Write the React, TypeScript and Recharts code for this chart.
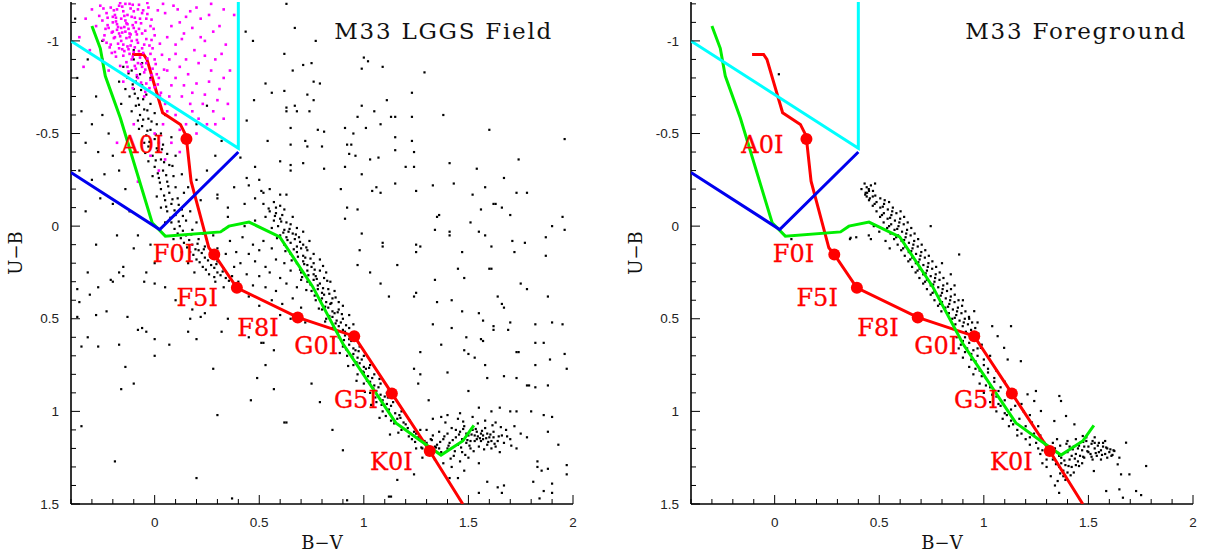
import React from 'react';
import { ComposedChart, Scatter, XAxis, YAxis } from 'recharts';

type Pt = [number, number];

// axes
const X_DOMAIN: [number, number] = [-0.4, 2];
const Y_DOMAIN: [number, number] = [-1.21, 1.5];
const X_TICKS = [-0.4, -0.3, -0.2, -0.1, 0, 0.1, 0.2, 0.3, 0.4, 0.5, 0.6, 0.7, 0.8, 0.9, 1, 1.1, 1.2, 1.3, 1.4, 1.5, 1.6, 1.7, 1.8, 1.9, 2];
const Y_TICKS = [-1.2, -1.1, -1, -0.9, -0.8, -0.7, -0.6, -0.5, -0.4, -0.3, -0.2, -0.1, 0, 0.1, 0.2, 0.3, 0.4, 0.5, 0.6, 0.7, 0.8, 0.9, 1, 1.1, 1.2, 1.3, 1.4, 1.5];

// supergiant sequence
const SEQ_NAMES = ['A0I', 'F0I', 'F5I', 'F8I', 'G0I', 'G5I', 'K0I'];
const SEQ_BV = [0.152, 0.285, 0.393, 0.684, 0.954, 1.134, 1.315];
const SEQ_UB = [-0.471, 0.153, 0.333, 0.493, 0.594, 0.903, 1.214];

const RED_LINE: Pt[] = [[-0.108, -0.927], [-0.053, -0.927], [-0.037, -0.9], [0.038, -0.612], [0.123, -0.549], [0.147, -0.495], [0.152, -0.471], [0.174, -0.243], [0.259, 0.117], [0.285, 0.153], [0.393, 0.333], [0.684, 0.493], [0.954, 0.594], [1.134, 0.903], [1.315, 1.214], [1.473, 1.5]];
const GREEN_LINE: Pt[] = [[-0.3, -1.08], [-0.26, -0.96], [-0.236, -0.81], [-0.164, -0.584], [-0.012, -0.018], [0.051, 0.054], [0.315, 0.031], [0.355, 0.0], [0.451, -0.022], [0.598, 0.058], [0.754, 0.324], [0.9, 0.635], [1.153, 1.062], [1.273, 1.16], [1.369, 1.236], [1.473, 1.16], [1.526, 1.076]];
const CYAN_LINE: Pt[] = [[-0.4, -1.0], [0.4, -0.42], [0.4, -1.21]];
const BLUE_LINE: Pt[] = [[-0.4, -0.29], [0.024, 0.018], [0.4, -0.4]];

// left panel: LGGS field stars
const MAGENTA_CORE: Pt[] = [[-0.21, -1.18], [-0.17, -1.19], [-0.12, -1.2], [-0.08, -1.17], [-0.23, -1.15], [-0.19, -1.14], [-0.15, -1.16], [-0.11, -1.13], [-0.06, -1.15], [-0.25, -1.11], [-0.2, -1.1], [-0.16, -1.12], [-0.13, -1.09], [-0.09, -1.1], [-0.04, -1.12], [-0.22, -1.07], [-0.18, -1.06], [-0.14, -1.05], [-0.1, -1.07], [-0.06, -1.04], [-0.02, -1.08], [-0.24, -1.03], [-0.19, -1.02], [-0.16, -1.0], [-0.12, -1.02], [-0.08, -0.99], [-0.04, -1.01], [0.0, -1.03], [-0.21, -0.98], [-0.17, -0.96], [-0.13, -0.97], [-0.1, -0.94], [-0.06, -0.96], [-0.02, -0.93], [-0.15, -0.92], [-0.11, -0.9], [-0.07, -0.91], [-0.04, -0.88], [0.0, -0.9], [-0.13, -0.86], [-0.09, -0.85], [-0.05, -0.83], [-0.01, -0.85], [0.02, -0.8], [-0.08, -0.8], [-0.04, -0.77], [0.0, -0.75], [0.03, -0.72], [-0.18, -1.09], [-0.14, -1.11], [-0.2, -1.13], [-0.17, -1.04], [-0.11, -1.0], [-0.15, -0.98], [-0.09, -1.05], [-0.13, -1.14], [-0.07, -1.12], [-0.19, -0.94], [-0.05, -0.98], [-0.01, -0.96], [-0.26, -1.19], [-0.28, -1.08], [-0.23, -0.99], [-0.12, -0.93], [-0.16, -1.07], [-0.1, -1.16], [-0.03, -1.18], [-0.14, -1.2], [-0.18, -1.17], [-0.08, -0.88], [0.01, -0.82], [-0.06, -0.86], [-0.02, -0.79], [-0.12, -1.04], [-0.2, -1.05]];
const MAGENTA_DENSE: Pt[] = [[-0.195, -1.165], [-0.155, -1.185], [-0.115, -1.175], [-0.075, -1.195], [-0.225, -1.125], [-0.185, -1.105], [-0.145, -1.135], [-0.105, -1.085], [-0.065, -1.095], [-0.035, -1.145], [-0.235, -1.065], [-0.205, -1.045], [-0.165, -1.025], [-0.125, -1.065], [-0.085, -1.035], [-0.045, -1.055], [-0.015, -1.005], [-0.215, -0.965], [-0.175, -0.985], [-0.135, -1.015], [-0.095, -0.965], [-0.055, -0.935], [-0.025, -0.975], [-0.185, -0.915], [-0.145, -0.945], [-0.105, -0.915], [-0.065, -0.875], [-0.035, -0.905], [0.005, -0.875], [-0.125, -0.835], [-0.085, -0.815], [-0.045, -0.845], [-0.015, -0.815], [-0.065, -0.775], [-0.025, -0.745], [0.015, -0.765], [-0.175, -1.075], [-0.135, -1.095], [-0.095, -1.125], [-0.055, -1.165], [-0.155, -1.045], [-0.115, -1.035], [-0.075, -1.065], [-0.195, -1.015], [-0.155, -0.955], [-0.115, -0.975], [-0.075, -0.945], [-0.135, -0.885], [-0.095, -0.865], [-0.245, -1.175], [-0.265, -1.135], [-0.225, -1.085], [-0.245, -1.005], [-0.205, -0.935], [-0.165, -0.865], [-0.015, -1.115], [0.015, -1.165], [-0.005, -1.065], [0.025, -0.985], [0.035, -0.925], [-0.105, -1.195], [-0.165, -1.205], [-0.035, -1.205], [0.045, -0.845], [0.025, -0.705], [-0.045, -0.725], [-0.105, -0.745], [-0.185, -1.125], [-0.145, -1.075], [-0.085, -1.005], [-0.125, -0.955]];
const MAGENTA_SPREAD: Pt[] = [[0.05, -1.15], [0.09, -1.19], [0.12, -1.1], [0.17, -1.16], [0.22, -1.12], [0.27, -1.2], [0.31, -1.08], [0.06, -1.02], [0.1, -0.98], [0.14, -1.04], [0.19, -0.95], [0.24, -1.0], [0.29, -0.9], [0.34, -0.98], [0.07, -0.9], [0.12, -0.86], [0.16, -0.82], [0.21, -0.88], [0.26, -0.78], [0.31, -0.74], [0.36, -0.84], [0.08, -0.76], [0.13, -0.7], [0.18, -0.72], [0.23, -0.66], [0.28, -0.62], [0.33, -0.58], [0.05, -0.66], [0.1, -0.6], [0.15, -0.55], [0.2, -0.5], [0.04, -0.55], [0.08, -0.45], [-0.02, -0.38], [0.02, -0.3], [0.05, -0.36], [-0.08, -0.24], [0.12, -0.4], [-0.33, -1.12], [-0.36, -1.02], [-0.31, -0.95], [-0.3, -1.17], [-0.34, -0.86], [-0.25, -0.9], [-0.22, -0.84], [0.38, -1.14], [0.35, -0.66], [0.25, -0.55], [0.18, -0.62], [-0.05, -0.7], [-0.15, -0.78], [-0.1, -0.55], [0.0, -0.5], [-0.18, -0.45], [0.04, -1.2], [0.11, -1.17], [0.15, -1.13], [0.2, -1.18], [0.26, -1.14], [0.33, -1.17], [0.08, -1.08], [0.13, -1.01], [0.18, -1.07], [0.22, -1.02], [0.28, -1.05], [0.32, -0.93], [0.1, -0.93], [0.15, -0.9], [0.24, -0.92], [0.27, -0.84], [0.33, -0.8], [0.06, -0.84], [0.1, -0.8], [0.2, -0.77], [0.14, -0.76], [0.24, -0.71], [0.3, -0.68], [0.07, -0.7], [0.17, -0.66], [0.21, -0.58], [0.12, -0.52], [0.29, -0.55], [0.06, -0.62], [0.02, -0.45]];

const L_PLUME: Pt[] = [[-0.15, -0.86], [-0.11, -0.84], [-0.13, -0.8], [-0.09, -0.78], [-0.07, -0.82], [-0.1, -0.74], [-0.06, -0.76], [-0.12, -0.7], [-0.08, -0.69], [-0.04, -0.71], [-0.09, -0.65], [-0.05, -0.63], [-0.02, -0.66], [-0.07, -0.6], [-0.03, -0.58], [0.0, -0.61], [-0.06, -0.54], [-0.02, -0.52], [0.01, -0.55], [-0.04, -0.49], [0.0, -0.47], [0.03, -0.5], [-0.03, -0.43], [0.01, -0.42], [0.04, -0.44], [-0.01, -0.38], [0.03, -0.36], [0.06, -0.39], [0.0, -0.32], [0.04, -0.3], [0.07, -0.33], [0.02, -0.26], [0.06, -0.24], [0.09, -0.27], [0.03, -0.2], [0.07, -0.18], [0.1, -0.21], [0.05, -0.14], [0.08, -0.12], [0.11, -0.15], [0.06, -0.08], [0.1, -0.06], [0.13, -0.09], [0.08, -0.02], [0.12, 0.0], [0.15, -0.03], [0.11, 0.04], [0.15, 0.05], [0.18, 0.02], [0.14, 0.09], [0.18, 0.1], [0.21, 0.07], [0.17, 0.14], [0.21, 0.13], [0.24, 0.11], [0.2, 0.18], [0.24, 0.17], [0.27, 0.15], [0.23, 0.22], [0.27, 0.21], [0.3, 0.19], [0.26, 0.26], [0.3, 0.25], [0.33, 0.23], [0.29, 0.3], [0.34, 0.28], [0.37, 0.27], [0.33, 0.33], [0.39, 0.31], [-0.14, -0.74], [-0.11, -0.62], [-0.08, -0.57], [-0.05, -0.45], [-0.03, -0.35], [-0.01, -0.27], [0.01, -0.16], [0.03, -0.1], [0.05, -0.02], [0.09, 0.07], [0.13, 0.14], [0.16, 0.2], [0.19, 0.25], [-0.02, -0.8], [0.01, -0.7], [0.05, -0.6], [0.08, -0.48], [0.1, -0.38], [0.13, -0.28], [0.14, -0.18], [0.17, -0.08], [0.2, -0.02], [0.23, 0.04], [-0.1, -0.9], [-0.06, -0.88], [-0.17, -0.78], [-0.16, -0.66]];
const L_PLUME_FILL: Pt[] = [[-0.125, -0.825], [-0.085, -0.805], [-0.105, -0.765], [-0.065, -0.735], [-0.095, -0.715], [-0.055, -0.685], [-0.075, -0.655], [-0.035, -0.625], [-0.055, -0.575], [-0.015, -0.565], [-0.035, -0.515], [0.005, -0.495], [-0.025, -0.455], [0.015, -0.405], [0.035, -0.415], [0.005, -0.355], [0.045, -0.345], [0.015, -0.285], [0.055, -0.275], [0.025, -0.235], [0.065, -0.215], [0.045, -0.165], [0.085, -0.145], [0.055, -0.105], [0.095, -0.085], [0.075, -0.045], [0.115, -0.025], [0.095, 0.015], [0.135, 0.025], [0.125, 0.065], [0.165, 0.075], [0.155, 0.115], [0.195, 0.125], [0.185, 0.155], [0.225, 0.145], [0.215, 0.195], [0.255, 0.185], [0.245, 0.235], [0.285, 0.225], [0.315, 0.265], [0.355, 0.295], [0.285, 0.275], [0.175, 0.045], [0.205, 0.095], [0.235, 0.125], [0.265, 0.165], [0.295, 0.205], [0.325, 0.245], [0.115, -0.115], [0.135, -0.055], [-0.045, -0.395], [-0.075, -0.525], [0.085, -0.325]];

const L_DWARF: Pt[] = [[0.52, -0.12], [0.57, -0.13], [0.6, -0.11], [0.55, -0.08], [0.58, -0.07], [0.62, -0.09], [0.53, -0.05], [0.57, -0.03], [0.6, -0.04], [0.63, -0.02], [0.66, -0.05], [0.56, 0.01], [0.59, 0.0], [0.62, 0.02], [0.65, -0.01], [0.68, 0.01], [0.6, 0.05], [0.63, 0.06], [0.66, 0.04], [0.69, 0.06], [0.71, 0.03], [0.62, 0.1], [0.65, 0.09], [0.68, 0.11], [0.71, 0.1], [0.74, 0.08], [0.65, 0.15], [0.68, 0.14], [0.71, 0.16], [0.73, 0.13], [0.76, 0.15], [0.68, 0.2], [0.71, 0.19], [0.73, 0.21], [0.76, 0.2], [0.79, 0.18], [0.7, 0.25], [0.73, 0.24], [0.76, 0.26], [0.79, 0.24], [0.82, 0.25], [0.73, 0.3], [0.76, 0.29], [0.79, 0.31], [0.81, 0.28], [0.84, 0.3], [0.75, 0.35], [0.78, 0.34], [0.8, 0.36], [0.83, 0.34], [0.86, 0.35], [0.77, 0.4], [0.8, 0.39], [0.82, 0.41], [0.85, 0.39], [0.88, 0.41], [0.8, 0.45], [0.83, 0.44], [0.85, 0.46], [0.88, 0.45], [0.9, 0.43], [0.82, 0.5], [0.85, 0.49], [0.87, 0.51], [0.9, 0.5], [0.93, 0.48], [0.85, 0.55], [0.88, 0.54], [0.9, 0.56], [0.93, 0.55], [0.95, 0.53], [0.88, 0.6], [0.91, 0.59], [0.93, 0.61], [0.96, 0.6], [0.9, 0.65], [0.93, 0.64], [0.95, 0.66], [0.98, 0.65], [0.92, 0.7], [0.95, 0.69], [0.97, 0.71], [1.0, 0.7], [0.95, 0.75], [0.98, 0.74], [1.0, 0.76], [1.03, 0.75], [0.97, 0.8], [1.0, 0.79], [1.02, 0.81], [1.05, 0.8], [1.0, 0.85], [1.03, 0.84], [1.05, 0.86], [1.08, 0.85], [1.03, 0.9], [1.06, 0.89], [1.08, 0.91], [1.11, 0.9], [1.06, 0.95], [1.09, 0.94], [1.11, 0.96], [1.14, 0.95], [1.09, 1.0], [1.12, 0.99], [1.15, 1.01], [1.18, 1.0], [1.13, 1.05], [1.16, 1.04], [1.19, 1.06], [1.22, 1.05], [1.18, 1.1], [1.21, 1.09], [1.24, 1.11], [1.27, 1.1], [1.23, 1.15], [1.26, 1.14], [1.29, 1.16], [1.32, 1.15], [1.28, 1.2], [1.31, 1.22], [1.34, 1.19], [0.58, -0.1], [0.61, -0.06], [0.64, 0.03], [0.67, 0.07], [0.7, 0.12], [0.72, 0.17], [0.75, 0.22], [0.77, 0.27], [0.78, 0.32], [0.81, 0.37], [0.84, 0.42], [0.86, 0.47], [0.89, 0.52], [0.91, 0.57], [0.94, 0.62], [0.96, 0.67], [0.99, 0.72], [1.01, 0.77], [1.04, 0.82], [1.07, 0.87], [1.1, 0.92], [1.13, 0.97], [1.17, 1.02], [1.2, 1.07], [1.25, 1.12], [1.3, 1.17]];
const L_DWARF_FILL: Pt[] = [[0.545, -0.095], [0.575, -0.055], [0.605, -0.025], [0.615, 0.035], [0.645, 0.015], [0.675, 0.045], [0.635, 0.075], [0.665, 0.125], [0.695, 0.085], [0.725, 0.115], [0.685, 0.165], [0.715, 0.205], [0.745, 0.175], [0.695, 0.235], [0.735, 0.265], [0.765, 0.235], [0.805, 0.215], [0.745, 0.315], [0.775, 0.285], [0.805, 0.335], [0.825, 0.295], [0.765, 0.375], [0.795, 0.405], [0.835, 0.365], [0.865, 0.385], [0.815, 0.435], [0.845, 0.415], [0.875, 0.465], [0.835, 0.485], [0.865, 0.525], [0.895, 0.475], [0.915, 0.535], [0.875, 0.575], [0.905, 0.615], [0.935, 0.585], [0.915, 0.665], [0.945, 0.705], [0.975, 0.675], [0.965, 0.735], [0.995, 0.785], [1.025, 0.765], [1.015, 0.835], [1.045, 0.875], [1.075, 0.825], [1.055, 0.925], [1.085, 0.965], [1.115, 0.925], [1.105, 1.025], [1.145, 1.065], [1.175, 1.035], [1.165, 1.115], [1.215, 1.135], [1.245, 1.165], [1.275, 1.195], [0.585, 0.065], [0.625, 0.135], [0.655, 0.185], [0.705, 0.275], [0.725, 0.345], [0.785, 0.445], [0.815, 0.515], [0.855, 0.605], [0.885, 0.685], [0.925, 0.755], [0.965, 0.835], [1.005, 0.895], [1.035, 0.965], [1.075, 1.035], [1.125, 1.125]];

const L_DIFFUSE: Pt[] = [[0.36, 0.08], [0.42, 0.06], [0.47, 0.1], [0.52, 0.08], [0.39, 0.14], [0.45, 0.15], [0.5, 0.13], [0.56, 0.12], [0.41, 0.2], [0.48, 0.19], [0.53, 0.22], [0.58, 0.18], [0.62, 0.2], [0.44, 0.26], [0.5, 0.27], [0.55, 0.25], [0.6, 0.28], [0.65, 0.24], [0.47, 0.32], [0.53, 0.33], [0.58, 0.35], [0.63, 0.31], [0.68, 0.33], [0.56, 0.4], [0.61, 0.42], [0.66, 0.39], [0.7, 0.44], [0.38, 0.22], [0.34, 0.15], [0.45, 0.38], [0.5, 0.43], [0.65, 0.5], [0.72, 0.52], [0.6, 0.48], [0.4, 0.3], [0.3, 0.12], [0.28, 0.05], [0.33, 0.02], [0.43, 0.0], [0.48, -0.03], [0.52, -0.18], [0.45, -0.22], [0.48, -0.15], [0.55, -0.2], [0.6, -0.17], [0.44, -0.26], [0.5, -0.25]];

const L_CLUMP: Pt[] = [[1.3, 1.1], [1.33, 1.13], [1.36, 1.11], [1.38, 1.15], [1.4, 1.12], [1.42, 1.09], [1.44, 1.14], [1.46, 1.11], [1.48, 1.08], [1.5, 1.13], [1.52, 1.1], [1.54, 1.15], [1.56, 1.12], [1.58, 1.09], [1.6, 1.14], [1.62, 1.11], [1.64, 1.16], [1.66, 1.13], [1.68, 1.1], [1.7, 1.15], [1.35, 1.18], [1.37, 1.22], [1.4, 1.2], [1.43, 1.24], [1.45, 1.18], [1.47, 1.22], [1.49, 1.17], [1.51, 1.2], [1.53, 1.16], [1.55, 1.19], [1.57, 1.15], [1.59, 1.18], [1.61, 1.2], [1.63, 1.19], [1.65, 1.22], [1.34, 1.26], [1.38, 1.28], [1.42, 1.3], [1.46, 1.27], [1.5, 1.25], [1.32, 1.22], [1.28, 1.25], [1.25, 1.2], [1.27, 1.15], [1.39, 1.06], [1.45, 1.04], [1.52, 1.03], [1.58, 1.05], [1.63, 1.06], [1.72, 1.08], [1.75, 1.12], [1.73, 1.2], [1.55, 1.28], [1.48, 1.32], [1.41, 1.36], [1.44, 1.1], [1.49, 1.12], [1.54, 1.11], [1.59, 1.12], [1.51, 1.16], [1.56, 1.16], [1.61, 1.16], [1.47, 1.15], [1.53, 1.13], [1.57, 1.13], [1.36, 1.2], [1.41, 1.17], [1.62, 1.14], [1.67, 1.17], [1.78, 1.14], [1.55, 0.98], [1.61, 1.0], [1.65, 0.98], [1.7, 1.0], [1.73, 1.0], [1.8, 1.0], [1.4, 1.02], [1.46, 1.01], [1.33, 1.04], [1.37, 1.03], [1.455, 1.125], [1.475, 1.095], [1.495, 1.155], [1.515, 1.125], [1.535, 1.095], [1.545, 1.135], [1.565, 1.105], [1.585, 1.145], [1.605, 1.125], [1.625, 1.175], [1.645, 1.135], [1.425, 1.155], [1.405, 1.185], [1.385, 1.135], [1.365, 1.165], [1.345, 1.195], [1.505, 1.185], [1.525, 1.215], [1.465, 1.195], [1.435, 1.215], [1.575, 1.205], [1.595, 1.165], [1.555, 1.145], [1.485, 1.235], [1.415, 1.255], [1.685, 1.135], [1.705, 1.185], [1.655, 1.085], [1.615, 1.075], [1.545, 1.065], [1.475, 1.055], [1.325, 1.155], [1.305, 1.195]];

const L_FIELD_UP: Pt[] = [[0.435, -1.05], [0.47, -1.0], [0.53, -0.77], [0.56, -0.72], [0.475, -0.68], [0.63, -0.62], [0.44, -0.57], [0.41, -0.37], [0.54, -0.46], [0.48, -0.32], [0.6, -0.35], [0.65, -0.3], [0.32, -0.46], [0.29, -0.38], [0.2, -0.55], [0.25, -0.65], [0.16, -0.21], [0.22, -0.14], [0.3, -0.17], [0.38, -0.21], [0.35, -0.1], [0.43, -0.12], [0.51, -0.19], [0.63, -0.17], [0.63, -1.2], [0.67, -1.07], [0.77, -1.0], [0.62, -0.93], [0.71, -0.87], [0.75, -0.88], [0.66, -0.84], [0.76, -0.78], [0.79, -0.77], [1.0, -0.91], [1.02, -0.89], [0.99, -0.85], [1.09, -0.86], [0.62, -0.73], [0.73, -0.71], [0.76, -0.68], [1.11, -0.68], [0.99, -0.65], [0.63, -0.64], [0.67, -0.65], [0.68, -0.62], [0.74, -0.62], [1.05, -0.62], [0.97, -0.59], [1.13, -0.59], [1.15, -0.59], [1.23, -0.72], [1.23, -0.59], [1.38, -0.6], [1.6, -0.52], [0.65, -0.53], [0.78, -0.52], [0.81, -0.51], [0.91, -0.53], [0.95, -0.5], [1.01, -0.53], [1.08, -0.55], [1.15, -0.48], [1.23, -0.46], [0.92, -0.44], [0.94, -0.44], [0.72, -0.46], [0.73, -0.43], [0.65, -0.44], [0.8, -0.43], [0.99, -0.28], [1.03, -0.36], [1.07, -0.37], [0.93, -0.39], [0.96, -0.38], [1.15, -0.41], [1.24, -0.4], [1.2, -0.32], [1.24, -0.32], [0.91, -0.32], [0.81, -0.31], [0.71, -0.34], [0.65, -0.33], [1.29, -0.83], [1.41, -0.34], [1.43, -0.23], [1.52, -0.17], [1.58, -0.21], [1.63, -0.12], [1.66, -0.1], [1.7, -0.06], [1.73, -0.18], [1.78, -0.18], [1.74, -0.36], [1.67, -0.26], [1.54, -0.31], [1.33, -0.22], [1.25, -0.19], [1.15, -0.23], [1.06, -0.21], [1.04, -0.19], [1.08, -0.18], [0.97, -0.09], [0.92, -0.1], [0.91, -0.04], [0.89, -0.2], [0.99, 0.04], [1.09, 0.09], [1.09, 0.11], [0.98, 0.13], [1.25, 0.1], [1.25, 0.14], [1.27, 0.11], [1.34, 0.02], [1.36, -0.06], [1.41, 0.03], [1.41, 0.05], [1.35, -0.05], [1.47, 0.14], [1.51, -0.02], [1.56, -0.09], [1.62, -0.12], [1.55, 0.03], [1.58, 0.05], [1.61, 0.11], [1.71, 0.08], [1.77, 0.09], [1.72, 0.14], [1.87, 0.06], [1.87, 0.16], [1.9, 0.0], [1.95, -0.05], [1.96, 0.02], [1.96, -0.47], [1.45, 0.23], [1.6, 0.23], [1.61, 0.23], [1.16, 0.21], [0.97, 0.21], [1.03, 0.25]];

const L_FIELD_LOW: Pt[] = [[-0.37, 0.34], [-0.36, 0.41], [-0.31, 0.37], [-0.27, 0.33], [-0.21, 0.29], [-0.2, 0.3], [-0.17, 0.25], [-0.15, 0.27], [-0.04, 0.25], [0.0, 0.31], [0.05, 0.33], [-0.37, 0.49], [-0.28, 0.48], [-0.23, 0.46], [-0.13, 0.49], [-0.35, 0.65], [-0.32, 0.6], [-0.27, 0.65], [-0.17, 0.64], [-0.08, 0.56], [-0.06, 0.55], [-0.04, 0.57], [0.0, 0.61], [0.0, 0.7], [0.07, 0.64], [-0.14, 0.76], [-0.16, 0.88], [-0.1, 0.85], [-0.35, 1.08], [-0.19, 1.27], [0.2, 1.36], [0.3, 1.02], [0.28, 0.77], [0.2, 0.61], [0.16, 0.57], [0.17, 0.5], [0.22, 0.49], [0.24, 0.47], [0.32, 0.57], [0.35, 0.5], [0.45, 0.6], [0.49, 0.82], [0.46, 0.94], [0.53, 0.75], [0.51, 0.63], [0.52, 0.63], [0.57, 0.67], [0.57, 0.88], [0.62, 1.06], [0.37, 1.47], [1.48, 0.28], [1.34, 0.29], [1.75, 0.31], [1.88, 0.38], [1.78, 0.34], [1.64, 0.38], [1.66, 0.42], [1.67, 0.44], [1.24, 0.38], [1.25, 0.36], [1.42, 0.4], [1.35, 0.41], [1.55, 0.47], [1.47, 0.46], [1.57, 0.51], [1.7, 0.52], [1.69, 0.56], [1.62, 0.54], [1.62, 0.56], [1.49, 0.6], [1.56, 0.61], [1.57, 0.62], [1.42, 0.55], [1.33, 0.53], [1.9, 0.52], [1.95, 0.53], [1.82, 0.53], [1.82, 0.63], [1.86, 0.63], [1.48, 0.67], [1.53, 0.71], [1.58, 0.75], [1.5, 0.69], [1.73, 0.68], [1.74, 0.68], [1.97, 0.77], [1.96, 0.69], [1.89, 0.72], [1.82, 0.75], [1.37, 0.64], [1.27, 0.68], [1.24, 0.77], [1.27, 0.8], [1.4, 0.79], [1.26, 0.85], [1.31, 0.94], [1.82, 0.87], [1.73, 0.82], [1.79, 0.86], [1.59, 0.82], [1.5, 0.89], [1.86, 1.02], [1.9, 1.03], [1.88, 1.11], [1.93, 1.18], [1.83, 1.27], [1.83, 1.3], [1.85, 1.32], [1.88, 1.31], [1.97, 1.29], [1.97, 1.34], [1.9, 1.39], [1.86, 1.43], [1.84, 1.47], [1.59, 1.38], [1.64, 1.41], [1.66, 1.44], [1.55, 1.44], [0.92, 1.48], [0.85, 1.1], [0.9, 1.21], [0.75, 0.85], [0.79, 0.95], [0.63, 1.06], [1.12, 1.46], [1.16, 1.37], [0.7, 0.29], [1.08, 0.31], [1.12, 0.38], [1.67, 0.81], [1.78, 0.86], [1.88, 0.86], [1.81, 1.38], [1.9, 1.44], [1.24, 1.34], [1.45, 1.36], [1.13, 1.46], [1.67, 1.4]];

const L_SPARSE: Pt[] = [[-0.37, -0.8], [-0.32, -0.9], [-0.28, -0.7], [-0.35, -0.62], [-0.3, -0.55], [-0.25, -0.6], [-0.22, -0.5], [-0.33, -0.45], [-0.27, -0.4], [-0.2, -0.38], [-0.36, -0.3], [-0.3, -0.25], [-0.24, -0.28], [-0.17, -0.3], [-0.14, -0.2], [-0.26, -0.15], [-0.2, -0.12], [-0.33, -0.08], [-0.12, -0.08], [-0.08, 0.05], [-0.18, 0.05], [-0.28, 0.1], [-0.1, 0.12], [-0.02, 0.1], [0.0, 0.2], [-0.15, 0.22], [-0.32, 0.25], [-0.05, 0.3], [0.1, 0.4], [0.18, 0.45], [-0.1, -0.95], [-0.25, -1.0], [-0.38, -1.12], [0.2, -0.25], [0.25, -0.3], [0.3, -0.15], [0.35, -0.05]];

// right panel: foreground model stars
const R_STRIPE_A: Pt[] = [[0.415, -0.2], [0.451, -0.14], [0.487, -0.08], [0.521, -0.02], [0.554, 0.04], [0.588, 0.1], [0.622, 0.16], [0.657, 0.22], [0.692, 0.28], [0.728, 0.34], [0.764, 0.4], [0.797, 0.46], [0.433, -0.17], [0.469, -0.11], [0.504, -0.05], [0.538, 0.01], [0.571, 0.07], [0.605, 0.13], [0.639, 0.19], [0.674, 0.25], [0.71, 0.31], [0.746, 0.37], [0.781, 0.43], [0.442, -0.18], [0.478, -0.12], [0.513, -0.06], [0.547, 0.0], [0.581, 0.06], [0.614, 0.12], [0.648, 0.18], [0.683, 0.24], [0.719, 0.3], [0.755, 0.36], [0.79, 0.42]];
const R_STRIPE_B: Pt[] = [[0.451, -0.19], [0.487, -0.13], [0.522, -0.07], [0.557, -0.01], [0.59, 0.05], [0.624, 0.11], [0.658, 0.17], [0.693, 0.23], [0.728, 0.29], [0.764, 0.35], [0.8, 0.41], [0.833, 0.47], [0.864, 0.53], [0.469, -0.16], [0.505, -0.1], [0.54, -0.04], [0.573, 0.02], [0.607, 0.08], [0.641, 0.14], [0.675, 0.2], [0.71, 0.26], [0.746, 0.32], [0.782, 0.38], [0.816, 0.44], [0.849, 0.5], [0.481, -0.165], [0.517, -0.105], [0.552, -0.045], [0.586, 0.015], [0.619, 0.075], [0.653, 0.135], [0.687, 0.195], [0.722, 0.255], [0.758, 0.315], [0.794, 0.375], [0.829, 0.435], [0.861, 0.495]];
const R_STRIPE_C: Pt[] = [[0.505, -0.15], [0.541, -0.09], [0.575, -0.03], [0.609, 0.03], [0.642, 0.09], [0.676, 0.15], [0.711, 0.21], [0.746, 0.27], [0.782, 0.33], [0.818, 0.39], [0.852, 0.45], [0.884, 0.51], [0.914, 0.57], [0.523, -0.12], [0.558, -0.06], [0.592, 0.0], [0.626, 0.06], [0.659, 0.12], [0.693, 0.18], [0.728, 0.24], [0.764, 0.3], [0.8, 0.36], [0.835, 0.42], [0.868, 0.48], [0.899, 0.54], [0.526, -0.14], [0.562, -0.08], [0.596, -0.02], [0.629, 0.04], [0.663, 0.1], [0.697, 0.16], [0.732, 0.22], [0.767, 0.28], [0.803, 0.34], [0.839, 0.4], [0.872, 0.46], [0.904, 0.52]];
const R_STRIPE_D: Pt[] = [[0.547, -0.13], [0.582, -0.07], [0.617, -0.01], [0.65, 0.05], [0.684, 0.11], [0.718, 0.17], [0.753, 0.23], [0.788, 0.29], [0.824, 0.35], [0.86, 0.41], [0.893, 0.47], [0.924, 0.53], [0.954, 0.59], [0.602, -0.08], [0.636, -0.02], [0.669, 0.04], [0.703, 0.1], [0.737, 0.16], [0.772, 0.22], [0.807, 0.28], [0.843, 0.34], [0.879, 0.4], [0.912, 0.46], [0.944, 0.52], [0.974, 0.58], [0.565, -0.1], [0.6, -0.04], [0.633, 0.02], [0.667, 0.08], [0.701, 0.14], [0.735, 0.2], [0.77, 0.26], [0.806, 0.32], [0.842, 0.38], [0.876, 0.44], [0.909, 0.5], [0.939, 0.56], [0.619, -0.05], [0.653, 0.01], [0.686, 0.07], [0.72, 0.13], [0.754, 0.19], [0.789, 0.25], [0.825, 0.31], [0.861, 0.37], [0.896, 0.43], [0.929, 0.49], [0.959, 0.55]];
const R_TOP: Pt[] = [[0.43, -0.23], [0.44, -0.21], [0.45, -0.2], [0.435, -0.18], [0.46, -0.22], [0.47, -0.19], [0.44, -0.16], [0.455, -0.15], [0.48, -0.23], [0.02, -0.82], [0.08, 0.07], [0.36, 0.07], [0.39, 0.06], [0.45, 0.05], [0.46, 0.07], [0.363, 0.063], [0.474, 0.0], [0.5, 0.03], [0.53, 0.08], [0.55, 0.12]];
const R_BAND: Pt[] = [[0.87, 0.6], [0.9, 0.62], [0.93, 0.63], [0.88, 0.66], [0.91, 0.68], [0.95, 0.67], [0.9, 0.71], [0.94, 0.72], [0.97, 0.7], [0.93, 0.76], [0.96, 0.77], [1.0, 0.75], [0.95, 0.8], [0.99, 0.81], [1.02, 0.79], [0.98, 0.85], [1.01, 0.86], [1.05, 0.84], [1.0, 0.9], [1.04, 0.91], [1.07, 0.89], [1.03, 0.95], [1.07, 0.96], [1.1, 0.94], [1.06, 1.0], [1.1, 1.01], [1.13, 0.99], [1.09, 1.04], [1.13, 1.05], [1.17, 1.04], [1.12, 1.08], [1.16, 1.1], [1.2, 1.08], [1.16, 1.13], [1.2, 1.15], [1.24, 1.12], [1.22, 1.18], [1.26, 1.2], [1.29, 1.17], [1.27, 1.23], [1.3, 1.26], [0.92, 0.58], [0.96, 0.6], [0.99, 0.64], [1.03, 0.7], [1.06, 0.78], [1.1, 0.84], [1.14, 0.9], [1.18, 0.96], [1.22, 1.02], [1.26, 1.08], [1.3, 1.3], [1.32, 1.35], [1.28, 1.28], [1.34, 1.4], [1.36, 1.44], [0.89, 0.64], [0.92, 0.66], [0.94, 0.69], [0.96, 0.73], [0.98, 0.78], [1.01, 0.82], [1.03, 0.87], [1.06, 0.92], [1.08, 0.97], [1.11, 1.02], [1.14, 1.07], [1.18, 1.12], [1.22, 1.14], [1.25, 1.17], [1.28, 1.21], [0.91, 0.6], [0.97, 0.66], [1.0, 0.72], [1.02, 0.77], [1.05, 0.82], [1.08, 0.87], [1.12, 0.92], [1.15, 0.97], [1.19, 1.0], [1.23, 1.06], [1.27, 1.13], [1.31, 1.19], [1.33, 1.23]];
const R_CLUMP: Pt[] = [[1.34, 1.2], [1.36, 1.24], [1.37, 1.28], [1.38, 1.32], [1.38, 1.35], [1.4, 1.22], [1.41, 1.26], [1.42, 1.3], [1.43, 1.19], [1.44, 1.23], [1.45, 1.27], [1.46, 1.17], [1.47, 1.21], [1.48, 1.25], [1.49, 1.16], [1.5, 1.19], [1.51, 1.23], [1.52, 1.16], [1.53, 1.2], [1.54, 1.24], [1.55, 1.17], [1.56, 1.21], [1.57, 1.19], [1.58, 1.23], [1.59, 1.2], [1.6, 1.22], [1.61, 1.24], [1.35, 1.22], [1.39, 1.29], [1.4, 1.33], [1.42, 1.24], [1.44, 1.29], [1.46, 1.24], [1.48, 1.19], [1.5, 1.22], [1.53, 1.17], [1.55, 1.22], [1.57, 1.17], [1.59, 1.25], [1.37, 1.25], [1.41, 1.19], [1.45, 1.2], [1.47, 1.28], [1.52, 1.26], [1.56, 1.26], [1.62, 1.21], [1.43, 1.33], [1.39, 1.37], [1.36, 1.3], [1.33, 1.26], [1.33, 1.17], [1.31, 1.22], [1.35, 1.15], [1.4, 1.16], [1.44, 1.15], [1.49, 1.14], [1.53, 1.14], [1.58, 1.16], [1.345, 1.285], [1.365, 1.335], [1.385, 1.265], [1.405, 1.295], [1.415, 1.345], [1.435, 1.255], [1.455, 1.295], [1.475, 1.245], [1.495, 1.215], [1.515, 1.245], [1.535, 1.225], [1.545, 1.185], [1.565, 1.235], [1.585, 1.195], [1.605, 1.205], [1.615, 1.235], [1.455, 1.185], [1.475, 1.165], [1.515, 1.175], [1.425, 1.205], [1.395, 1.175], [1.365, 1.185], [1.335, 1.215]];
const R_OUT: Pt[] = [[0.882, 0.153], [0.746, 0.0], [0.842, 0.26], [0.954, 0.459], [0.986, 0.657], [1.04, 0.54], [1.13, 0.54], [1.066, 0.594], [1.097, 0.657], [1.177, 0.729], [1.114, 0.72], [1.209, 0.908], [1.241, 0.944], [1.273, 0.998], [1.369, 0.944], [1.337, 1.052], [1.249, 0.89], [1.361, 0.917], [1.393, 1.025], [1.433, 1.07], [1.473, 1.133], [0.8, 0.2], [0.86, 0.32], [0.9, 0.4], [0.93, 0.5], [0.97, 0.52], [1.624, 1.214], [1.648, 1.25], [1.64, 1.286], [1.68, 1.169], [1.656, 1.34], [1.696, 1.34], [1.776, 1.295], [1.585, 1.43], [1.648, 1.421], [1.665, 1.466], [1.728, 1.43], [1.752, 1.452], [1.526, 1.322], [1.353, 1.376]];

const LABEL_OFFSET: Record<string, [number, number]> = {
  A0I: [-23, 14], F0I: [-20, 8], F5I: [-19, 18], F8I: [-19, 19], G0I: [-16, 18], G5I: [-14, 15], K0I: [-17, 19],
};

const toObj = (pts: Pt[]) => pts.map(([x, y]) => ({ x, y }));
const seqPoints = SEQ_NAMES.map((name, i) => ({ name, x: SEQ_BV[i], y: SEQ_UB[i] }));

const leftBlack = toObj([...L_SPARSE, ...L_FIELD_UP, ...L_FIELD_LOW, ...L_DIFFUSE, ...L_PLUME, ...L_PLUME_FILL, ...L_DWARF, ...L_DWARF_FILL, ...L_CLUMP]);
const leftMagenta = toObj([...MAGENTA_CORE, ...MAGENTA_DENSE, ...MAGENTA_SPREAD]);
const rightBlack = toObj([...R_TOP, ...R_STRIPE_A, ...R_STRIPE_B, ...R_STRIPE_C, ...R_STRIPE_D, ...R_BAND, ...R_CLUMP, ...R_OUT]);

const TICK_FONT = { fontFamily: '"Liberation Sans", Arial, sans-serif', fontSize: 13.5, fill: '#222' };
const SERIF = '"DejaVu Serif", serif';
const AXIS_LINE = { stroke: '#000', strokeWidth: 1.6 };

const isMajor = (v: number) => Math.abs(v * 2 - Math.round(v * 2)) < 1e-6;
const fmt = (v: number) => String(Math.round(v * 10) / 10);

function BottomTick(p: any) {
  const v = p.payload.value;
  const major = isMajor(v);
  return (
    <g>
      <line x1={p.x} x2={p.x} y1={p.y} y2={p.y - (major ? 9 : 5)} stroke="#000" />
      {major && <text x={p.x} y={p.y + 22.5} textAnchor="middle" {...TICK_FONT}>{fmt(v)}</text>}
    </g>
  );
}

function TopTick(p: any) {
  const major = isMajor(p.payload.value);
  return <line x1={p.x} x2={p.x} y1={p.y} y2={p.y + (major ? 9 : 5)} stroke="#000" />;
}

function LeftTick(p: any) {
  const v = p.payload.value;
  const major = isMajor(v);
  return (
    <g>
      <line x1={p.x} x2={p.x + (major ? 9 : 5)} y1={p.y} y2={p.y} stroke="#000" />
      {major && <text x={p.x - 12} y={p.y} dy="0.35em" textAnchor="end" {...TICK_FONT}>{fmt(v)}</text>}
    </g>
  );
}

function RightTick(p: any) {
  const major = isMajor(p.payload.value);
  return <line x1={p.x} x2={p.x - (major ? 9 : 5)} y1={p.y} y2={p.y} stroke="#000" />;
}

const dot = (color: string, s: number) => (p: any) => <rect x={p.cx - s / 2} y={p.cy - s / 2} width={s} height={s} fill={color} />;
const noDot = () => <g />;

function SeqPoint(p: any) {
  const name = p.payload.name;
  const [dx, dy] = LABEL_OFFSET[name];
  return (
    <g>
      <circle cx={p.cx} cy={p.cy} r={6} fill="#ff0000" />
      <text x={p.cx + dx} y={p.cy + dy} textAnchor="end" fontFamily={SERIF} fontSize={24} fill="#ff0000" stroke="#ff0000" strokeWidth={0.3}>{name}</text>
    </g>
  );
}

function Panel({ left, black, magenta }: { left: number; black: { x: number; y: number }[]; magenta?: { x: number; y: number }[] }) {
  const axisCommon = { type: 'number' as const, allowDataOverflow: true, interval: 0 as const, tickSize: 0, tickMargin: 0, tickLine: false, axisLine: AXIS_LINE };
  const line = (pts: Pt[], color: string) => (
    <Scatter xAxisId="b" yAxisId="l" data={toObj(pts)} fill={color} line={{ stroke: color, strokeWidth: 3 }} shape={noDot} isAnimationActive={false} />
  );
  return (
    <div style={{ position: 'absolute', left, top: 0 }}>
      <ComposedChart width={600} height={558} margin={{ top: 2, right: 27, bottom: 24, left: 11 }}>
        <XAxis xAxisId="b" dataKey="x" domain={X_DOMAIN} ticks={X_TICKS} height={30} tick={BottomTick} {...axisCommon} />
        <XAxis xAxisId="t" orientation="top" dataKey="x" domain={X_DOMAIN} ticks={X_TICKS} height={0} tick={TopTick} {...axisCommon} />
        <YAxis yAxisId="l" dataKey="y" domain={Y_DOMAIN} reversed ticks={Y_TICKS} width={60} tick={LeftTick} {...axisCommon} />
        <YAxis yAxisId="r" orientation="right" dataKey="y" domain={Y_DOMAIN} reversed ticks={Y_TICKS} width={0} tick={RightTick} {...axisCommon} />
        <Scatter xAxisId="b" yAxisId="l" data={black} fill="#000" shape={dot('#000', 2.2)} isAnimationActive={false} />
        {line(RED_LINE, '#ff0000')}
        {magenta && <Scatter xAxisId="b" yAxisId="l" data={magenta} fill="#ff00ff" shape={dot('#ff00ff', 2.6)} isAnimationActive={false} />}
        {line(GREEN_LINE, '#00ee00')}
        {line(CYAN_LINE, '#00ffff')}
        {line(BLUE_LINE, '#0000ee')}
        <Scatter xAxisId="b" yAxisId="l" data={seqPoints} fill="#ff0000" shape={SeqPoint} isAnimationActive={false} />
      </ComposedChart>
    </div>
  );
}

export default function App() {
  return (
    <div style={{ position: 'absolute', left: 0, top: 0, width: 1205, height: 558, background: '#fff' }}>
      <Panel left={0} black={leftBlack} magenta={leftMagenta} />
      <Panel left={620} black={rightBlack} />
      <svg width={1205} height={558} style={{ position: 'absolute', left: 0, top: 0, pointerEvents: 'none' }}>
        <text x={553} y={39} textAnchor="end" fontFamily={SERIF} fontSize={23} letterSpacing={1.75} fill="#111">M33 LGGS Field</text>
        <text x={1187} y={39} textAnchor="end" fontFamily={SERIF} fontSize={23} letterSpacing={1.75} fill="#111">M33 Foreground</text>
        <text x={322} y={549} textAnchor="middle" fontFamily={SERIF} fontSize={18} fill="#111">B−V</text>
        <text x={942} y={549} textAnchor="middle" fontFamily={SERIF} fontSize={18} fill="#111">B−V</text>
        <text transform="translate(22,253) rotate(-90)" textAnchor="middle" fontFamily={SERIF} fontSize={18} fill="#111">U−B</text>
        <text transform="translate(642,253) rotate(-90)" textAnchor="middle" fontFamily={SERIF} fontSize={18} fill="#111">U−B</text>
      </svg>
    </div>
  );
}
